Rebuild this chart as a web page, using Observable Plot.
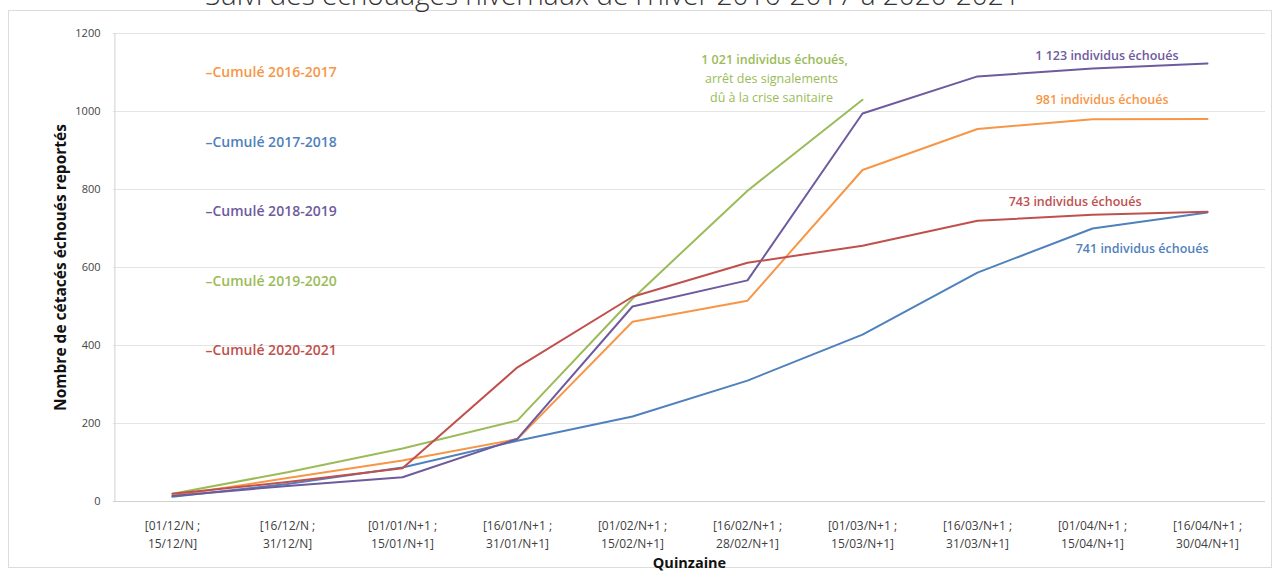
<!DOCTYPE html>
<html><head><meta charset="utf-8">
<script src="https://cdn.jsdelivr.net/npm/d3@7"></script>
<script src="https://cdn.jsdelivr.net/npm/@observablehq/plot@0.6"></script>
<style>
body{margin:0;background:#fff;font-family:"Open Sans",sans-serif;width:1279px;height:573px;overflow:hidden;position:relative}
#title{position:absolute;top:-25px;left:205px;font-size:28px;font-weight:300;color:#333;white-space:nowrap;line-height:normal}
#frame{position:absolute;left:8px;top:10px;width:1262px;height:556px;border:1px solid #dcdcdc}
#chart{position:absolute;left:0;top:0}
</style></head><body>
<div id="frame"></div>
<div id="title">Suivi des échouages hivernaux de l'hiver 2016-2017 à 2020-2021</div>
<div id="chart"></div>
<script>
const quinzaines = [
  "[01/12/N ;\n15/12/N]", "[16/12/N ;\n31/12/N]", "[01/01/N+1 ;\n15/01/N+1]",
  "[16/01/N+1 ;\n31/01/N+1]", "[01/02/N+1 ;\n15/02/N+1]", "[16/02/N+1 ;\n28/02/N+1]",
  "[01/03/N+1 ;\n15/03/N+1]", "[16/03/N+1 ;\n31/03/N+1]", "[01/04/N+1 ;\n15/04/N+1]",
  "[16/04/N+1 ;\n30/04/N+1]"
];
const seriesNames = ["Cumulé 2016-2017", "Cumulé 2017-2018", "Cumulé 2018-2019", "Cumulé 2019-2020", "Cumulé 2020-2021"];
const s2016 = [15, 60, 105, 160, 461, 515, 850, 955, 980, 981];
const s2017 = [12, 45, 87, 156, 218, 310, 428, 587, 700, 741];
const s2018 = [14, 40, 62, 161, 500, 567, 995, 1090, 1110, 1123];
const s2019 = [20, 75, 136, 208, 520, 797, 1030];
const s2020 = [20, 50, 85, 344, 525, 612, 656, 720, 735, 743];
const yTicks = [0, 200, 400, 600, 800, 1000, 1200];
const endLabels = ["981 individus échoués", "741 individus échoués", "1 123 individus échoués",
  "1 021 individus échoués,", "743 individus échoués"];
const covidNote = ["arrêt des signalements", "dû à la crise sanitaire"];

const colors = ["#F79646", "#4F81BD", "#6E5A9E", "#9BBB59", "#C0504D"];
const allSeries = [s2016, s2017, s2018, s2019, s2020];
const rows = allSeries.flatMap((s, k) => s.map((v, i) => ({serie: seriesNames[k], q: quinzaines[i], v})));
const last = allSeries.map((s, k) => ({serie: seriesNames[k], q: quinzaines[s.length - 1], v: s[s.length - 1]}));

// per-series annotation placement (style offsets)
const annot = [
  {dx: -39, dy: -19, anchor: "end"},
  {dx: 1, dy: 36, anchor: "end"},
  {dx: -29, dy: -8, anchor: "end"},
  {dx: -88, dy: -40, anchor: "middle"},
  {dx: -66, dy: -10, anchor: "end"}
];

const marks = [
  Plot.gridY(yTicks, {stroke: "#e4e4e4", strokeOpacity: 1}),
  Plot.ruleX([quinzaines[0]], {stroke: "#d0d0d0", dx: -57.6}),
  Plot.ruleY([0], {stroke: "#d0d0d0"}),
  Plot.axisY({ticks: yTicks, tickFormat: d3.format("d"), tickSize: 0, tickPadding: 13, fontSize: 11, fill: "#444",
    label: "Nombre de cétacés échoués reportés", labelAnchor: "center", labelArrow: "none", labelOffset: 59}),
  Plot.axisX({tickSize: 0, tickPadding: 16, fontSize: 12, lineHeight: 1.5, fill: "#404040",
    label: "Quinzaine", labelAnchor: "center", labelArrow: "none", labelOffset: 66}),
  ...allSeries.map((s, k) => Plot.line(rows.filter(d => d.serie === seriesNames[k]),
    {x: "q", y: "v", stroke: colors[k], strokeWidth: 2})),
  ...seriesNames.map((n, k) => Plot.text([n], {text: d => "–" + d, frameAnchor: "top-left", textAnchor: "start",
    dx: 92, dy: 34 + k * 69.5, fill: colors[k], fontSize: 14, fontWeight: 600})),
  ...last.map((d, k) => Plot.text([d], {x: "q", y: "v", text: () => endLabels[k], textAnchor: annot[k].anchor,
    dx: annot[k].dx, dy: annot[k].dy, fill: colors[k], fontSize: 12.5, fontWeight: 600})),
  ...covidNote.map((t, j) => Plot.text([last[3]], {x: "q", y: "v", text: () => t, textAnchor: "middle",
    dx: -91, dy: -21 + j * 19.5, fill: colors[3], fontSize: 12.5, fontWeight: 400}))
];

const chart = Plot.plot({
  width: 1279, height: 573,
  marginLeft: 113, marginRight: 14, marginTop: 33, marginBottom: 72,
  style: {fontFamily: "Open Sans, sans-serif", background: "transparent", color: "#222"},
  x: {type: "point", domain: quinzaines, padding: 0.5, label: "Quinzaine"},
  y: {domain: [0, 1200], label: "Nombre de cétacés échoués reportés"},
  marks
});
chart.querySelectorAll("[aria-label='y-axis label'] text").forEach(t => {
  t.setAttribute("font-weight", "bold"); t.setAttribute("font-size", "15.5"); t.setAttribute("fill", "#111");
});
chart.querySelectorAll("[aria-label='x-axis label'] text").forEach(t => {
  t.setAttribute("font-weight", "bold"); t.setAttribute("font-size", "14.5"); t.setAttribute("fill", "#111");
});
document.getElementById("chart").append(chart);
</script>
</body></html>
